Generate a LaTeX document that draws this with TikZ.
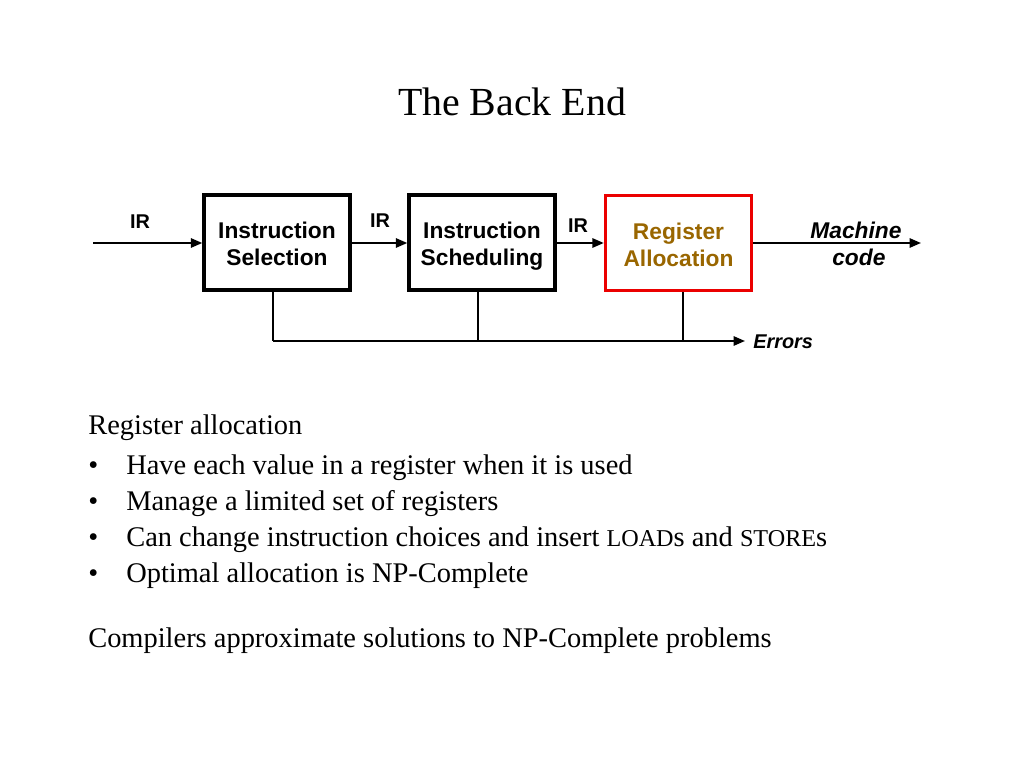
\documentclass[tikz,border=0pt]{standalone}
\usepackage{fontspec}
\setmainfont{Liberation Serif}
\newfontfamily\arialf{Liberation Sans}
\usetikzlibrary{arrows.meta}
\definecolor{goldtext}{RGB}{153,102,0}
\definecolor{boxred}{RGB}{235,0,0}
\begin{document}
\begin{tikzpicture}[x=0.703125pt,y=-0.703125pt,
  stagebox/.style={draw=black,line width=2.4pt,minimum width=146*0.703125pt,minimum height=95*0.703125pt,inner sep=0pt},
  stagetext/.style={inner sep=0pt,align=center,font=\arialf\bfseries\fontsize{16}{19}\selectfont},
  flow/.style={line width=1.4pt,-{Triangle[length=8pt,width=6.5pt]}},
  plainline/.style={line width=1.4pt},
  lbl/.style={font=\arialf\bfseries\fontsize{14}{16}\selectfont,inner sep=0pt},
  lblit/.style={font=\arialf\bfseries\itshape\fontsize{16}{19}\selectfont,inner sep=0pt,align=center},
  body/.style={font=\fontsize{20}{24}\selectfont,anchor=base west,inner sep=0pt}]
\useasboundingbox (0,0) rectangle (1024,768);
% title
\node[font=\fontsize{28}{32}\selectfont,anchor=base,inner sep=0pt] (title) at (512,116) {The Back End};
% boxes
\node[stagebox] (b1) at (277,242.5) {};
\node[stagebox] (b2) at (482,242.5) {};
\node[stagebox,draw=boxred] (b3) at (678.5,243) {};
\node[stagetext] (t1) at ([yshift=-2.6pt]b1.center) {Instruction\\Selection\vphantom{g}};
\node[stagetext] (t2) at ([yshift=-2.6pt]b2.center) {Instruction\\Scheduling};
\node[stagetext,text=goldtext] (t3) at ([yshift=-2.6pt]b3.center) {Register\\Allocation\vphantom{g}};
% flow
\coordinate (in) at (93,243);
\coordinate (out) at (921,243);
\draw[flow] (in) -- (in -| b1.west);
\draw[flow] (b1.east |- in) -- (b2.west |- in);
\draw[flow] (b2.east |- in) -- (b3.west |- in);
\draw[flow] (b3.east |- in) -- (out);
\node[lbl] (ir1) at (140,222) {IR};
\node[lbl] (ir2) at (380,221) {IR};
\node[lbl] (ir3) at (578,226) {IR};
\node[lblit] (mc) at (856,244) {Machine\\\hspace*{4pt}code};
% errors
\coordinate (v1) at (273,341);
\coordinate (v2) at (478,341);
\coordinate (v3) at (683,341);
\coordinate (ee) at (745,341);
\draw[plainline] (b1.south -| v1) -- (v1);
\draw[plainline] (b2.south -| v2) -- (v2);
\draw[plainline] (b3.south -| v3) -- (v3);
\draw[flow] (v1) -- (ee);
\node[lblit,font=\arialf\bfseries\itshape\fontsize{14}{16}\selectfont,anchor=west] (err) at (753,342) {Errors};
% body text
\node[body] (h1) at (88,434) {Register allocation};
\node[body] (p1b) at (88,474) {•};
\node[body] (p1) at (126,474) {Have each value in a register when it is used};
\node[body] (p2b) at (88,510) {•};
\node[body] (p2) at (126,510) {Manage a limited set of registers};
\node[body] (p3b) at (88,546) {•};
\node[body] (p3) at (126,546) {Can change instruction choices and insert {\fontsize{17}{20}\selectfont LOAD}s and {\fontsize{17}{20}\selectfont STORE}s};
\node[body] (p4b) at (88,582) {•};
\node[body] (p4) at (126,582) {Optimal allocation is NP-Complete};
\node[body] (c1) at (88,647) {Compilers approximate solutions to NP-Complete problems};
\end{tikzpicture}
\end{document}
